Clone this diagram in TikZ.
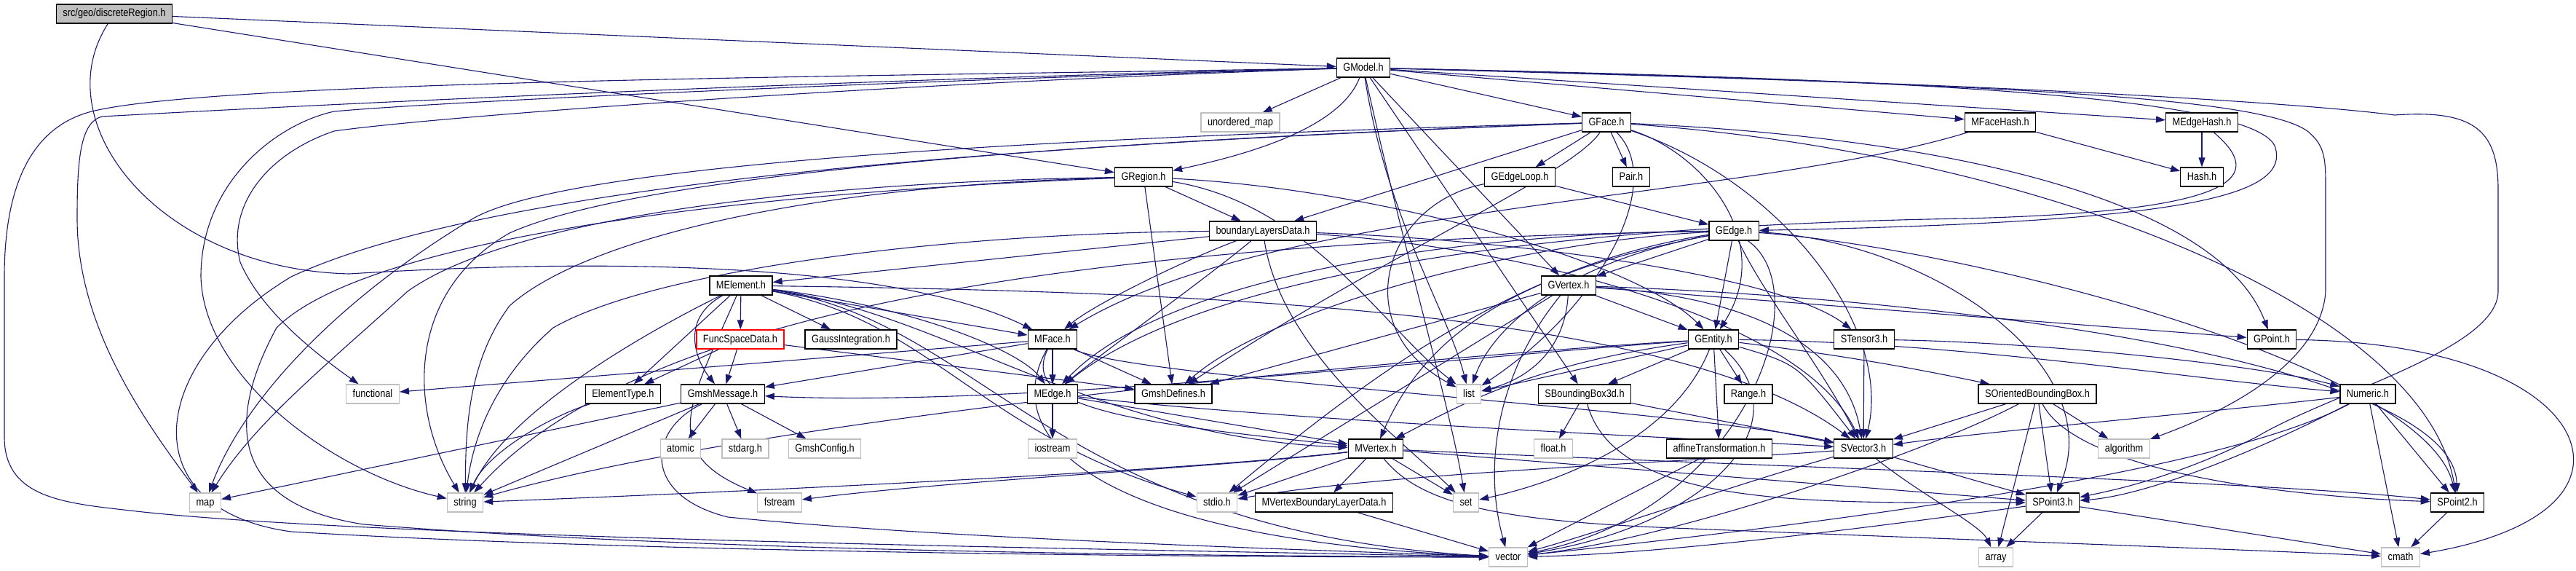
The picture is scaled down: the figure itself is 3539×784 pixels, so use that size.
\documentclass[tikz,border=0pt]{standalone}
\usepackage{fontspec}
\setmainfont{Liberation Sans}[FakeStretch=0.85]
\usepackage{xcolor}
\usepackage{tikz}
\usetikzlibrary{arrows.meta}

\definecolor{edgeblue}{HTML}{191970}
\definecolor{sysgray}{HTML}{BFBFBF}

\pgfdeclarelayer{edges}
\pgfsetlayers{edges,main}

\tikzset{
  hdr/.style={draw=black, line width=1.3pt, fill=white, minimum height=26pt,
    inner xsep=9pt, inner ysep=0pt, text height=11pt, text depth=3pt,
    font=\fontsize{15}{18}\selectfont},
  sys/.style={hdr, draw=sysgray},
  dep/.style={draw=edgeblue, line width=1.1pt, -{Triangle[length=13pt,width=9pt]}},
}

\begin{document}
\begin{tikzpicture}[x=1pt, y=-1pt]
\useasboundingbox (0,0) rectangle (3539,784);

% headers
\node[hdr, fill=sysgray] (dregion) at (157,19) {src/geo/discreteRegion.h};
\node[hdr] (gmodel) at (1873,93) {GModel.h};
\node[sys] (unomap) at (1704,168) {unordered\_map};
\node[hdr] (gface) at (2207,168) {GFace.h};
\node[hdr] (mfacehash) at (2748,168) {MFaceHash.h};
\node[hdr] (medgehash) at (3025,168) {MEdgeHash.h};
\node[hdr] (gregion) at (1571,243) {GRegion.h};
\node[hdr] (gedgeloop) at (2088,243) {GEdgeLoop.h};
\node[hdr] (pair) at (2241,243) {Pair.h};
\node[hdr] (hash) at (3025,243) {Hash.h};
\node[hdr] (bld) at (1735,317) {boundaryLayersData.h};
\node[hdr] (gedge) at (2382,317) {GEdge.h};
\node[hdr] (melement) at (1018,392) {MElement.h};
\node[hdr] (gvertex) at (2155,392) {GVertex.h};
\node[hdr, draw=red] (funcspace) at (1017,466) {FuncSpaceData.h};
\node[hdr] (gauss) at (1169,466) {GaussIntegration.h};
\node[hdr] (mface) at (1446,466) {MFace.h};
\node[hdr] (gentity) at (2354,466) {GEntity.h};
\node[hdr] (stensor) at (2561,466) {STensor3.h};
\node[hdr] (gpoint) at (3121,466) {GPoint.h};
\node[sys] (functional) at (512,541) {functional};
\node[hdr] (elemtype) at (856,541) {ElementType.h};
\node[hdr] (gmshmsg) at (993,541) {GmshMessage.h};
\node[hdr] (medge) at (1446,541) {MEdge.h};
\node[hdr] (gmshdef) at (1612,541) {GmshDefines.h};
\node[sys] (list) at (2018,541) {list};
\node[hdr] (sbbox) at (2177,541) {SBoundingBox3d.h};
\node[hdr] (range) at (2402,541) {Range.h};
\node[hdr] (sobbox) at (2799,541) {SOrientedBoundingBox.h};
\node[hdr] (numeric) at (3253,541) {Numeric.h};
\node[sys] (atomic) at (935,616) {atomic};
\node[sys] (stdarg) at (1024,616) {stdarg.h};
\node[sys] (gmshconf) at (1133,616) {GmshConfig.h};
\node[sys] (iostream) at (1446,616) {iostream};
\node[hdr] (mvertex) at (1890,616) {MVertex.h};
\node[sys] (float) at (2134,616) {float.h};
\node[hdr] (affine) at (2362,616) {affineTransformation.h};
\node[hdr] (svector) at (2560,616) {SVector3.h};
\node[sys] (algorithm) at (2918,616) {algorithm};
\node[sys] (map) at (282,690) {map};
\node[sys] (string) at (639,690) {string};
\node[sys] (fstream) at (1071,690) {fstream};
\node[sys] (stdio) at (1672,690) {stdio.h};
\node[hdr] (mvbld) at (1819,690) {MVertexBoundaryLayerData.h};
\node[sys] (set) at (2014,690) {set};
\node[hdr] (spoint3) at (2820,690) {SPoint3.h};
\node[hdr] (spoint2) at (3376,690) {SPoint2.h};
\node[sys] (vector) at (2072,765) {vector};
\node[sys] (array) at (2742,765) {array};
\node[sys] (cmath) at (3298,765) {cmath};

\begin{pgfonlayer}{edges}
% discreteRegion.h
\draw[dep] (dregion) -- (gmodel);
\draw[dep] (dregion) -- (gregion);
\draw[dep] (dregion) .. controls (60,170) and (220,370) .. (480,376) .. controls (900,350) and (1250,370) .. (mface);

% GModel.h
\draw[dep] (gmodel) .. controls (1200,105) and (300,110) .. (126,153) .. controls (40,175) and (6,260) .. (6,380) -- (6,600) .. controls (6,680) and (80,690) .. (170,700) .. controls (500,740) and (1600,755) .. (vector);
\draw[dep] (gmodel) .. controls (1200,108) and (500,140) .. (140,160) .. controls (110,168) and (106,220) .. (106,300) .. controls (106,450) and (200,580) .. (map);
\draw[dep] (gmodel) .. controls (1200,112) and (600,140) .. (459,153) .. controls (380,170) and (276,250) .. (276,380) .. controls (280,520) and (460,650) .. (string);
\draw[dep] (gmodel) .. controls (1200,115) and (600,160) .. (459,180) .. controls (370,210) and (310,280) .. (330,360) .. controls (360,430) and (440,490) .. (functional);
\draw[dep] (gmodel) -- (unomap);
\draw[dep] (gmodel) .. controls (1840,180) and (1700,215) .. (gregion);
\draw[dep] (gmodel) -- (gface);
\draw[dep] (gmodel) -- (mfacehash);
\draw[dep] (gmodel) -- (medgehash);
\draw[dep] (gmodel) .. controls (2600,108) and (3090,130) .. (3125,200) .. controls (3150,270) and (3000,305) .. (gedge);
\draw[dep] (gmodel) -- (gvertex);
\draw[dep] (gmodel) -- (sbbox);
\draw[dep] (gmodel) .. controls (1930,350) and (1990,550) .. (set);
\draw[dep] (gmodel) .. controls (1905,300) and (1990,430) .. (list);
\draw[dep] (gmodel) .. controls (2700,115) and (3100,130) .. (3170,180) .. controls (3195,200) and (3195,220) .. (3195,260) -- (3195,400) .. controls (3190,480) and (3100,550) .. (algorithm);
\draw[dep] (gmodel) .. controls (2700,112) and (3150,140) .. (3290,158) .. controls (3400,150) and (3432,180) .. (3432,260) -- (3432,400) .. controls (3432,480) and (3200,540) .. (3100,600) .. controls (3000,650) and (2920,670) .. (spoint3);

% GFace.h
\draw[dep] (gface) -- (gedgeloop);
\draw[dep] (gface) -- (pair);
\draw[dep] (gface) -- (bld);
\draw[dep] (gface) .. controls (2340,210) and (2440,330) .. (gentity);
\draw[dep] (gface) .. controls (2290,250) and (2200,420) .. (list);
\draw[dep] (gface) .. controls (2160,240) and (1900,350) .. (gmshdef);
\draw[dep] (gface) .. controls (2700,190) and (3050,280) .. (gpoint);
\draw[dep] (gface) .. controls (2800,210) and (3330,420) .. (spoint2);
\draw[dep] (gface) .. controls (2450,250) and (2600,450) .. (svector);
\draw[dep] (gface) .. controls (1600,185) and (800,215) .. (650,300) .. controls (450,420) and (330,560) .. (map);
\draw[dep] (gface) .. controls (1600,190) and (900,230) .. (700,320) .. controls (560,400) and (560,560) .. (string);
\draw[dep] (gface) .. controls (1500,195) and (700,240) .. (400,380) .. controls (200,500) and (180,700) .. (400,730) .. controls (900,760) and (1700,765) .. (vector);

% GRegion.h
\draw[dep] (gregion) -- (bld);
\draw[dep] (gregion) -- (gmshdef);
\draw[dep] (gregion) .. controls (1900,260) and (2250,360) .. (gentity);
\draw[dep] (gregion) .. controls (1800,280) and (1900,450) .. (list);
\draw[dep] (gregion) .. controls (1100,250) and (700,300) .. (560,400) .. controls (450,500) and (350,580) .. (map);
\draw[dep] (gregion) .. controls (1100,255) and (800,330) .. (700,420) .. controls (640,500) and (640,600) .. (string);
\draw[dep] (gregion) .. controls (1000,265) and (500,330) .. (380,450) .. controls (320,560) and (300,690) .. (500,720) .. controls (1000,760) and (1700,763) .. (vector);

% boundaryLayersData.h
\draw[dep] (bld) -- (melement);
\draw[dep] (bld) .. controls (1620,360) and (1500,420) .. (mface);
\draw[dep] (bld) .. controls (1660,380) and (1520,480) .. (medge);
\draw[dep] (bld) .. controls (1760,480) and (1920,600) .. (set);
\draw[dep] (bld) .. controls (2100,330) and (2450,380) .. (stensor);
\draw[dep] (bld) .. controls (2100,340) and (2480,440) .. (svector);
\draw[dep] (bld) .. controls (1300,320) and (900,370) .. (760,450) .. controls (680,520) and (650,600) .. (string);

% MElement.h
\draw[dep] (melement) -- (funcspace);
\draw[dep] (melement) -- (gauss);
\draw[dep] (melement) -- (mface);
\draw[dep] (melement) .. controls (1250,420) and (1400,480) .. (medge);
\draw[dep] (melement) .. controls (1300,430) and (1500,600) .. (mvertex);
\draw[dep] (melement) -- (elemtype);
\draw[dep] (melement) .. controls (930,440) and (960,500) .. (gmshmsg);
\draw[dep] (melement) .. controls (1280,440) and (1350,600) .. (stdio);
\draw[dep] (melement) .. controls (1350,440) and (1450,730) .. (vector);
\draw[dep] (melement) .. controls (1600,400) and (2300,420) .. (svector);
\draw[dep] (melement) .. controls (900,450) and (700,560) .. (string);
\draw[dep] (melement) .. controls (950,550) and (900,620) .. (fstream);

% FuncSpaceData.h
\draw[dep] (funcspace) -- (elemtype);
\draw[dep] (funcspace) -- (gmshmsg);
\draw[dep] (funcspace) -- (gmshdef);

% MFace.h
\draw[dep] (mface) -- (medge);
\draw[dep] (mface) -- (gmshdef);
\draw[dep] (mface) -- (gmshmsg);
\draw[dep] (mface) -- (functional);
\draw[dep] (mface) .. controls (1400,560) and (1550,580) .. (mvertex);
\draw[dep] (mface) .. controls (1560,520) and (2300,560) .. (svector);
\draw[dep] (mface) .. controls (1370,600) and (1500,740) .. (vector);

% MEdge.h
\draw[dep] (medge) -- (iostream);
\draw[dep] (medge) -- (mvertex);
\draw[dep] (medge) .. controls (1800,580) and (2300,600) .. (svector);

% GmshMessage.h
\draw[dep] (gmshmsg) -- (atomic);
\draw[dep] (gmshmsg) -- (stdarg);
\draw[dep] (gmshmsg) -- (gmshconf);
\draw[dep] (gmshmsg) -- (map);
\draw[dep] (gmshmsg) -- (string);
\draw[dep] (gmshmsg) .. controls (890,590) and (880,680) .. (1000,710) .. controls (1300,740) and (1800,755) .. (vector);

\draw[dep] (elemtype) .. controls (760,570) and (670,620) .. (string);

% MVertex.h
\draw[dep] (mvertex) -- (mvbld);
\draw[dep] (mvertex) -- (set);
\draw[dep] (mvertex) -- (stdio);
\draw[dep] (mvertex) -- (spoint3);
\draw[dep] (mvertex) .. controls (2400,640) and (3100,660) .. (spoint2);
\draw[dep] (mvertex) .. controls (1950,690) and (2050,715) .. (2300,725) .. controls (2800,745) and (3100,755) .. (cmath);
\draw[dep] (mvertex) .. controls (1700,640) and (1300,660) .. (fstream);
\draw[dep] (mvertex) .. controls (1600,650) and (900,680) .. (string);
\draw[dep] (mvbld) -- (vector);

% GEdge.h
\draw[dep] (gedge) -- (gentity);
\draw[dep] (gedge) -- (gvertex);
\draw[dep] (gedge) .. controls (2100,330) and (1750,420) .. (gmshdef);
\draw[dep] (gedge) .. controls (2000,320) and (1600,380) .. (medge);
\draw[dep] (gedge) .. controls (2150,360) and (2050,450) .. (list);
\draw[dep] (gedge) .. controls (2420,400) and (2500,500) .. (svector);
\draw[dep] (gedge) .. controls (2700,340) and (3330,500) .. (spoint2);
\draw[dep] (gedge) .. controls (2650,330) and (2900,500) .. (spoint3);
\draw[dep] (gedge) .. controls (2100,360) and (1900,500) .. (stdio);
\draw[dep] (gedge) .. controls (2050,380) and (1950,480) .. (mvertex);
\draw[dep] (gedge) .. controls (1600,330) and (900,400) .. (string);
\draw[dep] (gedge) .. controls (2500,400) and (2400,700) .. (vector);

% GVertex.h
\draw[dep] (gvertex) -- (gentity);
\draw[dep] (gvertex) -- (gpoint);
\draw[dep] (gvertex) .. controls (2700,410) and (3370,500) .. (spoint2);
\draw[dep] (gvertex) .. controls (2150,480) and (2100,520) .. (list);
\draw[dep] (gvertex) -- (gmshdef);
\draw[dep] (gvertex) -- (stdio);
\draw[dep] (gvertex) .. controls (2450,410) and (2540,500) .. (svector);
\draw[dep] (gvertex) .. controls (2050,520) and (2040,650) .. (vector);

% GEntity.h
\draw[dep] (gentity) -- (list);
\draw[dep] (gentity) -- (sbbox);
\draw[dep] (gentity) -- (range);
\draw[dep] (gentity) -- (affine);
\draw[dep] (gentity) .. controls (2470,500) .. (svector);
\draw[dep] (gentity) .. controls (2550,490) and (2650,510) .. (sobbox);
\draw[dep] (gentity) .. controls (2700,470) and (3000,520) .. (numeric);
\draw[dep] (gentity) .. controls (2300,600) and (2150,660) .. (set);
\draw[dep] (gentity) .. controls (2480,580) and (2350,720) .. (vector);
\draw[dep] (gentity) .. controls (2000,490) and (1400,560) .. (gmshmsg);
\draw[dep] (gentity) .. controls (2100,500) and (2000,560) .. (mvertex);
\draw[dep] (gentity) .. controls (2100,480) and (1100,560) .. (string);

% STensor3.h, SBoundingBox3d.h
\draw[dep] (stensor) -- (svector);
\draw[dep] (stensor) .. controls (2800,470) and (3100,500) .. (numeric);
\draw[dep] (sbbox) -- (float);
\draw[dep] (sbbox) -- (svector);
\draw[dep] (sbbox) .. controls (2220,700) and (2500,690) .. (spoint3);
\draw[dep] (affine) -- (vector);

% SVector3.h
\draw[dep] (svector) -- (spoint3);
\draw[dep] (svector) .. controls (2640,680) and (2720,720) .. (array);
\draw[dep] (svector) .. controls (2400,660) and (2200,730) .. (vector);
\draw[dep] (svector) .. controls (2300,635) and (1900,650) .. (stdio);

% SOrientedBoundingBox.h
\draw[dep] (sobbox) -- (algorithm);
\draw[dep] (sobbox) -- (array);
\draw[dep] (sobbox) -- (spoint3);
\draw[dep] (sobbox) -- (svector);
\draw[dep] (sobbox) .. controls (2650,620) and (2300,740) .. (vector);
\draw[dep] (sobbox) .. controls (2850,640) and (3100,680) .. (spoint2);

% Numeric.h
\draw[dep] (numeric) -- (spoint2);
\draw[dep] (numeric) -- (cmath);
\draw[dep] (numeric) .. controls (3100,620) and (2950,680) .. (spoint3);
\draw[dep] (numeric) .. controls (3000,570) and (2750,590) .. (svector);
\draw[dep] (numeric) .. controls (3050,650) and (2500,720) .. (vector);

% points, hashes
\draw[dep] (spoint3) -- (array);
\draw[dep] (spoint3) -- (cmath);
\draw[dep] (spoint3) .. controls (2600,720) and (2300,760) .. (vector);
\draw[dep] (spoint2) -- (cmath);
\draw[dep] (gpoint) .. controls (3420,470) and (3545,560) .. (3535,640) .. controls (3525,710) and (3420,745) .. (cmath);
\draw[dep] (mfacehash) -- (hash);
\draw[dep] (mfacehash) .. controls (2400,275) and (1750,280) .. (mface);
\draw[dep] (medgehash) -- (hash);
\draw[dep] (medgehash) .. controls (3110,240) and (3090,290) .. (2700,300) .. controls (2100,310) and (1650,380) .. (medge);
\draw[dep] (gedgeloop) -- (gedge);
\draw[dep] (gedgeloop) .. controls (1900,280) and (1850,450) .. (list);
\end{pgfonlayer}
\end{tikzpicture}
\end{document}
